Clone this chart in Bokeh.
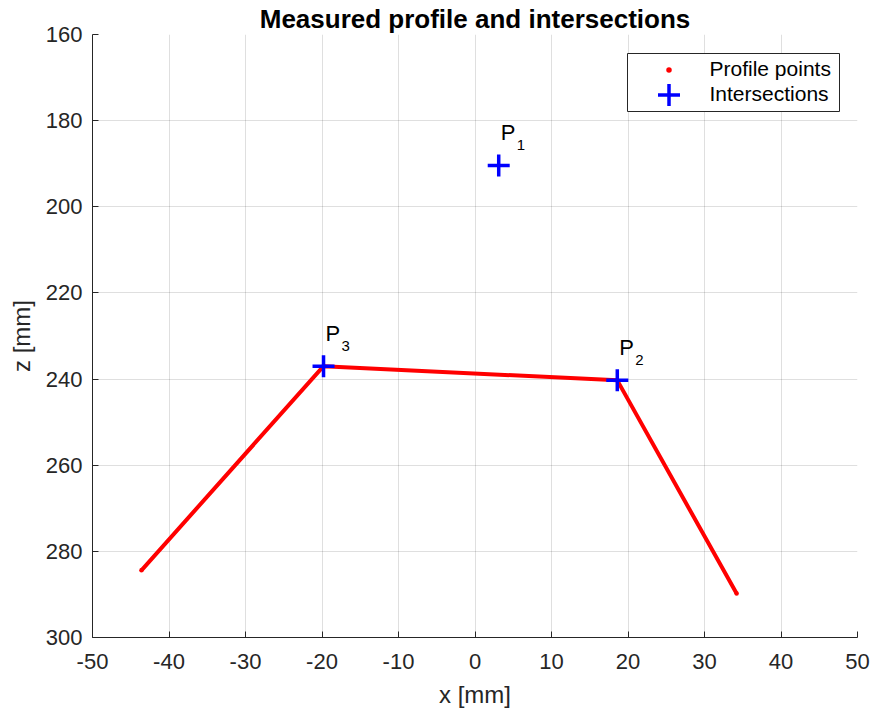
from bokeh.plotting import figure
from bokeh.models import (Range1d, FixedTicker, Legend, LegendItem,
                          BoxAnnotation, ColumnDataSource)
from bokeh.core.properties import value
from bokeh.embed import file_html
from bokeh.resources import INLINE

# Measured profile: polyline through the scanned points [mm]
profile_x = [-43.6, -19.8, 18.6, 34.2]
profile_z = [284.4, 237.0, 240.3, 289.8]

# Intersections of the fitted lines [mm]
inter_x = [3.1, 18.6, -19.8]
inter_z = [190.4, 240.3, 237.0]
inter_idx = ["1", "2", "3"]

x_ticks = [-50, -40, -30, -20, -10, 0, 10, 20, 30, 40, 50]
z_ticks = [160, 180, 200, 220, 240, 260, 280, 300]

FONT = "Liberation Sans"
INK = "#262626"

p = figure(width=873, height=711, output_backend="svg", toolbar_location=None,
           x_range=Range1d(-50, 50), y_range=Range1d(300, 160),
           min_border_left=92, min_border_right=16,
           min_border_top=34, min_border_bottom=74,
           title="Measured profile and intersections")
p.outline_line_color = None
p.background_fill_color = "white"
p.border_fill_color = "white"

p.title.align = "center"
p.title.text_font = FONT
p.title.text_font_size = "26px"
p.title.text_font_style = "bold"
p.title.text_color = "black"
p.title.standoff = 2

for ax, ticks, lab in ((p.xaxis, x_ticks, "x [mm]"), (p.yaxis, z_ticks, "z [mm]")):
    ax.ticker = FixedTicker(ticks=ticks)
    # plain hyphen for negative numbers
    ax.major_label_overrides = {t: str(t) for t in ticks}
    ax.axis_label = lab
    ax.axis_label_text_font = FONT
    ax.axis_label_text_font_size = "24px"
    ax.axis_label_text_font_style = "normal"
    ax.axis_label_text_color = INK
    ax.major_label_text_font = FONT
    ax.major_label_text_font_size = "22px"
    ax.major_label_text_color = INK
    ax.axis_line_color = INK
    ax.major_tick_line_color = INK
    ax.major_tick_in = 6
    ax.major_tick_out = 0
    ax.minor_tick_line_color = None

p.xaxis.major_label_standoff = 16
p.xaxis.axis_label_standoff = 9
p.yaxis.major_label_standoff = 10
p.yaxis.axis_label_standoff = 8

p.grid.grid_line_color = INK
p.grid.grid_line_alpha = 0.15

# profile drawn as a thick red trace, with dots at the scanned ends
p.line(profile_x, profile_z, line_color="red", line_width=4)
dots = p.scatter(profile_x, profile_z, marker="dot", size=18, color="red")

crosses = p.scatter(inter_x, inter_z, marker="cross", size=22,
                    line_width=3.5, line_color="blue")

src = ColumnDataSource(dict(x=inter_x, z=inter_z,
                            name=["P"] * len(inter_idx), idx=inter_idx))
p.text(x="x", y="z", text="name", source=src, x_offset=2, y_offset=-33,
       text_baseline="alphabetic", text_font=value(FONT),
       text_font_size="22px", text_color="black")
p.text(x="x", y="z", text="idx", source=src, x_offset=18, y_offset=-20,
       text_baseline="alphabetic", text_font=value(FONT),
       text_font_size="15px", text_color="black")

# legend frame
box = BoxAnnotation(left=627, right=839, top=53, bottom=111,
                    left_units="canvas", right_units="canvas",
                    top_units="canvas", bottom_units="canvas",
                    fill_color="white", fill_alpha=1.0,
                    line_color=INK, line_width=1, line_alpha=1.0)
p.add_layout(box)


def legend_row(label, renderer, loc):
    return Legend(items=[LegendItem(label=label, renderers=[renderer])],
                  location=loc, glyph_width=55, glyph_height=55,
                  label_height=55, padding=0, margin=0, label_standoff=14,
                  border_line_color=None, background_fill_alpha=0,
                  label_text_font=FONT, label_text_font_size="21px",
                  label_text_color="black")


p.add_layout(legend_row("Profile points", dots, (548.5, 540.5)))
p.add_layout(legend_row("Intersections", crosses, (548.5, 515.5)))

open("out.html", "w").write(file_html(p, INLINE))
